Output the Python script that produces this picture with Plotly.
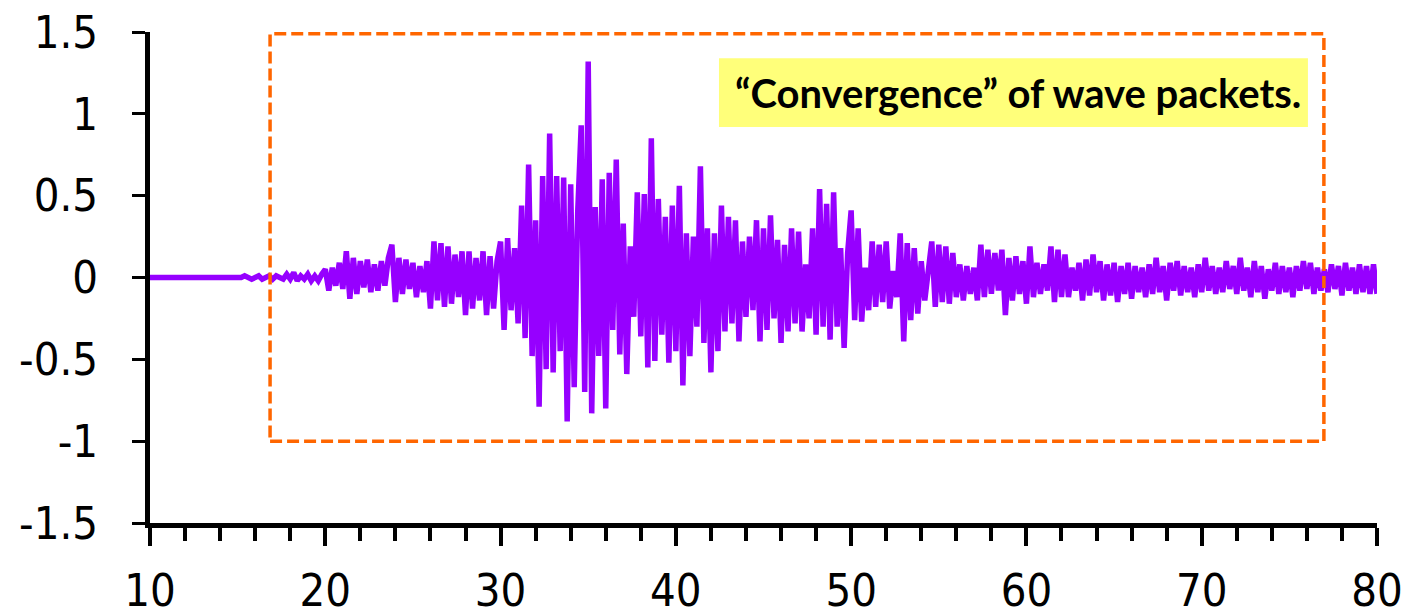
import numpy as np
import plotly.graph_objects as go

# Sampling of the trace: starts at t = 10, one sample every 0.2
T_START = 10.0
T_STEP = 0.2

# Amplitudes in hundredths, grouped by time window
quiet_10_15 = [0] * 25
amp_15_20 = [0, 0, 1, 0, -1, 0, 1, -1, 0, 1, -1, 1, 0, -1, 2, -1, 3, -2, 1, -1, 2, -2, 1, -2, 2]
amp_20_25 = [5, -8, 6, -5, 9, -7, 16, -13, 12, -10, 10, -6, 11, -9, 8, -8, 10, -5, 12, 20, -15, 12, -10, 11, -7]
amp_25_30 = [9, -12, 7, -9, 10, -19, 22, -14, 21, -18, 19, -16, 14, -12, 16, -23, 16, -19, 12, -14, 16, -23, 13, -19, 10]
amp_30_35 = [22, -32, 24, -20, 18, -28, 44, -37, 69, -48, 35, -79, 62, -56, 88, -58, 62, -45, 61, -88, 57, -67, 40, 93, -70]
amp_35_40 = [132, -83, 43, -48, 60, -80, 64, -32, 72, -47, 33, -59, 19, -24, 52, -36, 51, -55, 85, -51, 48, -35, 37, -52, 44]
amp_40_45 = [-45, 56, -66, 27, -48, 25, -30, 68, -40, 30, -58, 27, -45, 44, -33, 37, -28, 35, -39, 22, -24, 25, -20, 35, -39]
amp_45_50 = [30, -32, 38, -25, 23, -40, 20, -33, 30, -28, 28, -33, 8, -25, 30, -35, 54, -30, 45, -38, 52, -30, 18, -43, 15]
amp_50_55 = [41, -26, 30, -27, 6, -20, 22, -18, 20, -15, 22, -19, 4, -12, 27, -39, 21, -26, 18, -22, 10, -14, 8, 22, -18]
amp_55_60 = [20, -15, 19, -16, 15, -12, 8, -14, 7, -10, 6, -14, 20, -12, 17, -10, 15, -8, 17, -23, 12, -14, 13, -10, 10]
amp_60_65 = [-16, 19, -12, 9, -10, 8, -8, 19, -15, 17, -12, 14, -12, 6, -8, 9, -14, 11, -11, 14, -9, 10, -14, 8, -11]
amp_65_70 = [9, -15, 7, -10, 9, -13, 7, -9, 6, -12, 8, -10, 12, -9, 7, -14, 9, -8, 10, -11, 7, -9, 6, -12, 8]
amp_70_75 = [-9, 12, -8, 7, -10, 6, -9, 10, -7, 7, -10, 12, -8, 6, -12, 10, -9, 7, -13, 5, -8, 9, -10, 7, -9]
amp_75_80 = [6, -12, 7, -8, 10, -7, 9, -10, 6, -8, 5, -9, 8, -7, 7, -11, 9, -8, 6, -10, 8, -9, 7, -10, 8, -10]

y_ticks = [-1.5, -1.0, -0.5, 0.0, 0.5, 1.0, 1.5]
y_tick_text = ["-1.5", "-1", "-0.5", "0", "0.5", "1", "1.5"]
x_ticks = [10, 20, 30, 40, 50, 60, 70, 80]

note_text = "\u201cConvergence\u201d of wave packets."

amp = np.array(
    quiet_10_15 + amp_15_20 + amp_20_25 + amp_25_30 + amp_30_35 + amp_35_40
    + amp_40_45 + amp_45_50 + amp_50_55 + amp_55_60 + amp_60_65 + amp_65_70
    + amp_70_75 + amp_75_80,
    dtype=float,
) / 100.0
t = T_START + T_STEP * np.arange(len(amp))

fig = go.Figure()
fig.add_trace(go.Scatter(
    x=t, y=amp, mode="lines",
    line=dict(color="#9600FF", width=5.5),
    hoverinfo="skip", showlegend=False,
))

# dashed frame around the active part of the record
fig.add_shape(type="rect", xref="x", yref="y", x0=16.85, x1=76.97, y0=-1.0, y1=1.49,
              line=dict(color="#FF6600", width=3.5, dash="12px,5px"),
              fillcolor="rgba(0,0,0,0)", layer="above")
# highlighted note
fig.add_shape(type="rect", xref="x", yref="y", x0=42.46, x1=76.06, y0=0.92, y1=1.34,
              line=dict(width=0), fillcolor="#FFFF7A", layer="below")
fig.add_annotation(x=59.5, y=1.13, xref="x", yref="y", text=note_text, showarrow=False,
                   font=dict(family="Lato", size=40, color="black", weight="bold"))

tick_font = dict(family="DejaVu Sans Condensed, DejaVu Sans", size=45, color="black")

fig.update_layout(
    width=1418, height=616,
    margin=dict(l=150, r=41, t=32, b=93, autoexpand=False),
    paper_bgcolor="white", plot_bgcolor="white",
    xaxis=dict(
        range=[10, 80], tickvals=x_ticks, ticks="outside", ticklen=18, tickwidth=4,
        tickcolor="black", showline=True, linecolor="black", linewidth=5,
        showgrid=False, zeroline=False, tickfont=tick_font, ticklabelstandoff=6,
        automargin=False,
        minor=dict(dtick=2, ticks="outside", ticklen=13, tickwidth=4, tickcolor="black", showgrid=False),
    ),
    yaxis=dict(
        range=[-1.5, 1.5], tickvals=y_ticks, ticktext=y_tick_text, ticks="outside",
        ticklen=13, tickwidth=3, tickcolor="black", showline=True, linecolor="black",
        linewidth=5, showgrid=False, zeroline=False, tickfont=tick_font,
        ticklabelstandoff=25, automargin=False,
    ),
)

fig.write_html("out.html")
